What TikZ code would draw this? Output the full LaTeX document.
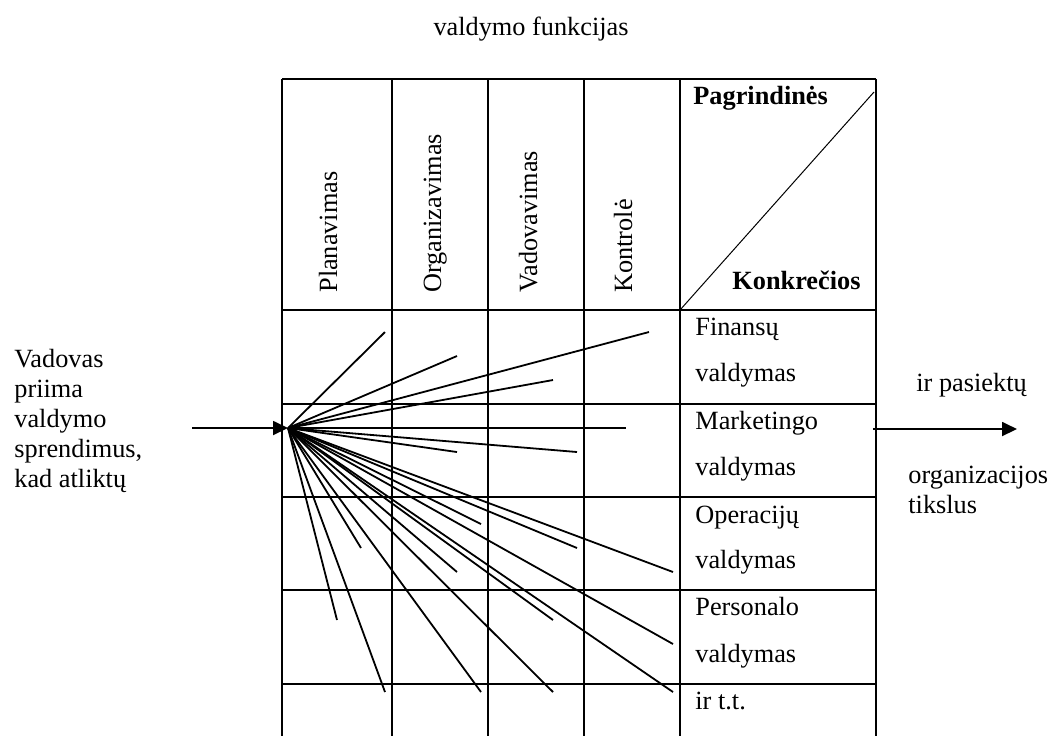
\documentclass[tikz,border=0pt]{standalone}
\usepackage{fontspec}
\setmainfont{Liberation Serif}
\usetikzlibrary{arrows.meta}
\tikzset{
  txt/.style={anchor=base west, inner sep=0pt, font=\fontsize{13.15}{16}\selectfont},
  head/.style={txt, rotate=90},
  grid/.style={line width=1.2pt},
  ray/.style={line width=0.9pt},
  flow/.style={line width=0.9pt, -{Triangle[length=7.5pt,width=7pt]}}
}
\begin{document}
\begin{tikzpicture}[x=0.5pt, y=-0.5pt]
\useasboundingbox (0,0) rectangle (1052,736);
% table
\foreach \x in {282,392,488,584,680,876} \draw[grid] (\x,79) -- (\x,736);
\foreach \y in {79,310,404,497,590,684} \draw[grid] (282,\y) -- (876,\y);
\draw[line width=0.5pt] (680,310) -- (874,92); %corner split
\node[txt, anchor=base] (title) at (531,35) {valdymo funkcijas};
\node[head] (plan) at (337,293) {Planavimas};
\node[head] (org) at (441,293) {Organizavimas};
\node[head] (vad) at (537,293) {Vadovavimas};
\node[head] (kontr) at (632,293) {Kontrolė};
\node[txt, font=\fontsize{13.15}{16}\selectfont\bfseries] (pagr) at (693,104) {Pagrindinės};
\node[txt, font=\fontsize{13.15}{16}\selectfont\bfseries] (konkr) at (732,289) {Konkrečios};
\node[txt] (fin) at (695,335) {Finansų};
\node[txt] (fin2) at (695,381) {valdymas};
\node[txt] (mark) at (695,429) {Marketingo};
\node[txt] (mark2) at (695,475) {valdymas};
\node[txt] (oper) at (695,523) {Operacijų};
\node[txt] (oper2) at (695,568) {valdymas};
\node[txt] (pers) at (695,615) {Personalo};
\node[txt] (pers2) at (695,662) {valdymas};
\node[txt] (irtt) at (695,709) {ir t.t.};
% left text and input arrow
\node[txt] (l1) at (14,367) {Vadovas};
\node[txt] (l2) at (14,397) {priima};
\node[txt] (l3) at (14,427) {valdymo};
\node[txt] (l4) at (14,457) {sprendimus,};
\node[txt] (l5) at (14,487) {kad atliktų};
\coordinate (in) at (192,428);
\coordinate (apex) at (288,428);
\draw[flow] (in) -- (apex);
% fan of decisions
\foreach \x/\y in {385/332,457/356,649/332,553/380,626/428,457/452,577/452,
  481/524,577/548,673/572,361/548,457/572,553/620,673/644,337/620,
  385/692,481/692,553/692,673/692}
  \draw[ray] (apex) -- (\x,\y);
% output arrow and right text
\coordinate (out0) at (873,429);
\coordinate (out1) at (1017,429);
\draw[flow] (out0) -- (out1);
\node[txt] (r1) at (916,391) {ir pasiektų};
\node[txt] (r2) at (908,483) {organizacijos};
\node[txt] (r3) at (908,513) {tikslus};
\end{tikzpicture}
\end{document}
